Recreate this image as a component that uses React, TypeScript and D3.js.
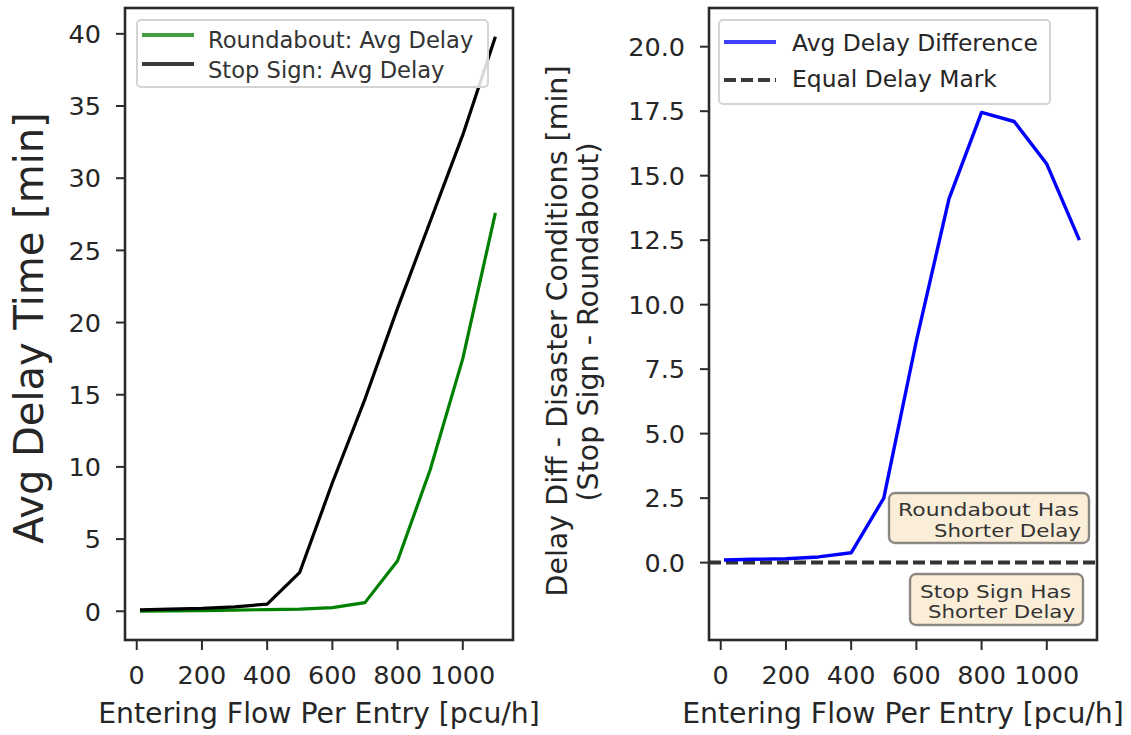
import React from "react";
import * as d3 from "d3";

const flow = [10, 100, 200, 300, 400, 500, 600, 700, 800, 900, 1000, 1100];
const roundaboutDelay = [0.0, 0.02, 0.05, 0.08, 0.12, 0.15, 0.25, 0.6, 3.5, 9.8, 17.5, 27.6];
const stopSignDelay = [0.1, 0.15, 0.2, 0.3, 0.5, 2.7, 8.9, 14.7, 21.0, 27.0, 33.0, 39.8];
const delayDiff = [0.1, 0.13, 0.15, 0.22, 0.38, 2.5, 8.6, 14.1, 17.45, 17.1, 15.45, 12.5];

const xTicks = [0, 200, 400, 600, 800, 1000];
const leftYTicks = [0, 5, 10, 15, 20, 25, 30, 35, 40];
const rightYTicks = [0, 2.5, 5, 7.5, 10, 12.5, 15, 17.5, 20];

const xDomain: [number, number] = [-36, 1154];
const rightYDomain: [number, number] = [-3, 21.5];

const FONT = "DejaVu Sans, Verdana, sans-serif";
const TXT = "#262626";
const SPINE = "#2b2b2b";

const W = 1131;
const H = 735;
const top = 8;
const bottom = 640;

function Axes({
  x0, x1, xScale, yScale, yTicks, fmt,
}: {
  x0: number; x1: number;
  xScale: d3.ScaleLinear<number, number>;
  yScale: d3.ScaleLinear<number, number>;
  yTicks: number[];
  fmt: (v: number) => string;
}) {
  return (
    <g>
      {yTicks.map((t) => (
        <g key={"y" + t}>
          <line x1={x0 - 9} x2={x0} y1={yScale(t)} y2={yScale(t)} stroke={SPINE} strokeWidth={2} />
          <text x={x0 - 24} y={yScale(t) + 9.3} textAnchor="end" fontSize={25.5} fontFamily={FONT} fill={TXT}>
            {fmt(t)}
          </text>
        </g>
      ))}
      {xTicks.map((t) => (
        <g key={"x" + t}>
          <line x1={xScale(t)} x2={xScale(t)} y1={bottom} y2={bottom + 10} stroke={SPINE} strokeWidth={2} />
          <text x={xScale(t)} y={684} textAnchor="middle" fontSize={25.5} fontFamily={FONT} fill={TXT}>
            {String(t)}
          </text>
        </g>
      ))}
      <rect x={x0} y={top} width={x1 - x0} height={bottom - top} fill="none" stroke={SPINE} strokeWidth={2.6} />
      <text x={(x0 + x1) / 2} y={723} textAnchor="middle" fontSize={28.3} fontFamily={FONT} fill={TXT}>
        Entering Flow Per Entry [pcu/h]
      </text>
    </g>
  );
}

export default function App() {
  const lx0 = 125, lx1 = 513;
  const rx0 = 709, rx1 = 1097;
  const lx = d3.scaleLinear().domain(xDomain).range([lx0, lx1]);
  const rx = d3.scaleLinear().domain(xDomain).range([rx0, rx1]);

  const allLeft = [...roundaboutDelay, ...stopSignDelay];
  const lMin = d3.min(allLeft)!;
  const lMax = d3.max(allLeft)!;
  const lPad = (lMax - lMin) * 0.05;
  const ly = d3.scaleLinear().domain([lMin - lPad, lMax + lPad]).range([bottom, top]);
  const ry = d3.scaleLinear().domain(rightYDomain).range([bottom, top]);

  const lineL = (vals: number[]) =>
    d3.line<number>().x((_, i) => lx(flow[i])).y((v) => ly(v))(vals) || "";
  const lineR = (vals: number[]) =>
    d3.line<number>().x((_, i) => rx(flow[i])).y((v) => ry(v))(vals) || "";

  const boxText = { fontSize: 17.5, fontFamily: FONT, fill: "#333", lengthAdjust: "spacingAndGlyphs" as const };

  return (
    <svg width={W} height={H} style={{ position: "absolute", left: 0, top: 0, background: "#fff" }}>
      <defs>
        <clipPath id="clipL"><rect x={lx0} y={top} width={lx1 - lx0} height={bottom - top} /></clipPath>
        <clipPath id="clipR"><rect x={rx0} y={top} width={rx1 - rx0} height={bottom - top} /></clipPath>
      </defs>
      <rect x={0} y={0} width={W} height={H} fill="#fff" />

      {/* LEFT PANEL */}
      <g clipPath="url(#clipL)">
        <path d={lineL(roundaboutDelay)} fill="none" stroke="#008000" strokeWidth={3.2} strokeLinejoin="round" />
        <path d={lineL(stopSignDelay)} fill="none" stroke="#000" strokeWidth={3.2} strokeLinejoin="round" />
      </g>
      <Axes x0={lx0} x1={lx1} xScale={lx} yScale={ly} yTicks={leftYTicks} fmt={(v) => String(v)} />
      <text
        transform="translate(43,328) rotate(-90)"
        textAnchor="middle" fontSize={40} fontFamily={FONT} fill={TXT}
      >
        Avg Delay Time [min]
      </text>
      <g>
        <rect x={137} y={20} width={351} height={67} rx={4} fill="#fff" fillOpacity={0.85} stroke="#d4d4d4" strokeWidth={2} />
        <line x1={142} x2={194} y1={35} y2={35} stroke="#3f9f3f" strokeWidth={4} />
        <line x1={142} x2={194} y1={64} y2={64} stroke="#3a3a3a" strokeWidth={4} />
        <text x={208} y={48} fontSize={22.6} fontFamily={FONT} fill="#333">Roundabout: Avg Delay</text>
        <text x={208} y={78} fontSize={22.6} fontFamily={FONT} fill="#333">Stop Sign: Avg Delay</text>
      </g>

      {/* RIGHT PANEL */}
      <g clipPath="url(#clipR)">
        <line x1={rx0} x2={rx1} y1={ry(0)} y2={ry(0)} stroke="#333" strokeWidth={4} strokeDasharray="12,5" />
        <path d={lineR(delayDiff)} fill="none" stroke="#0000ff" strokeWidth={3.4} strokeLinejoin="round" />
      </g>
      <Axes x0={rx0} x1={rx1} xScale={rx} yScale={ry} yTicks={rightYTicks} fmt={(v) => v.toFixed(1)} />
      <text transform="translate(567,331) rotate(-90)" textAnchor="middle" fontSize={28.5} fontFamily={FONT} fill={TXT}>
        Delay Diff - Disaster Conditions [min]
      </text>
      <text transform="translate(598,322) rotate(-90)" textAnchor="middle" fontSize={28.5} fontFamily={FONT} fill={TXT}>
        (Stop Sign - Roundabout)
      </text>

      {/* annotation boxes */}
      <g>
        <rect x={889} y={493} width={200} height={50} rx={6} fill="#f5deb3" fillOpacity={0.5} stroke="#000" strokeOpacity={0.45} strokeWidth={2.4} />
        <text x={1079} y={516} textAnchor="end" textLength={181} {...boxText}>Roundabout Has</text>
        <text x={1081} y={537} textAnchor="end" textLength={147} {...boxText}>Shorter Delay</text>
        <rect x={910} y={574} width={173} height={51} rx={6} fill="#f5deb3" fillOpacity={0.5} stroke="#000" strokeOpacity={0.45} strokeWidth={2.4} />
        <text x={1071} y={598} textAnchor="end" textLength={151} {...boxText}>Stop Sign Has</text>
        <text x={1075} y={618} textAnchor="end" textLength={147} {...boxText}>Shorter Delay</text>
      </g>

      <g>
        <rect x={719} y={20} width={331} height={84} rx={4} fill="#fff" fillOpacity={0.85} stroke="#d4d4d4" strokeWidth={2} />
        <line x1={724} x2={776} y1={42} y2={42} stroke="#4040ff" strokeWidth={4} />
        <line x1={724} x2={776} y1={80} y2={80} stroke="#3a3a3a" strokeWidth={4} strokeDasharray="12,5" />
        <text x={792} y={51} fontSize={23.4} fontFamily={FONT} fill={TXT}>Avg Delay Difference</text>
        <text x={792} y={87} fontSize={23.4} fontFamily={FONT} fill={TXT}>Equal Delay Mark</text>
      </g>
    </svg>
  );
}
